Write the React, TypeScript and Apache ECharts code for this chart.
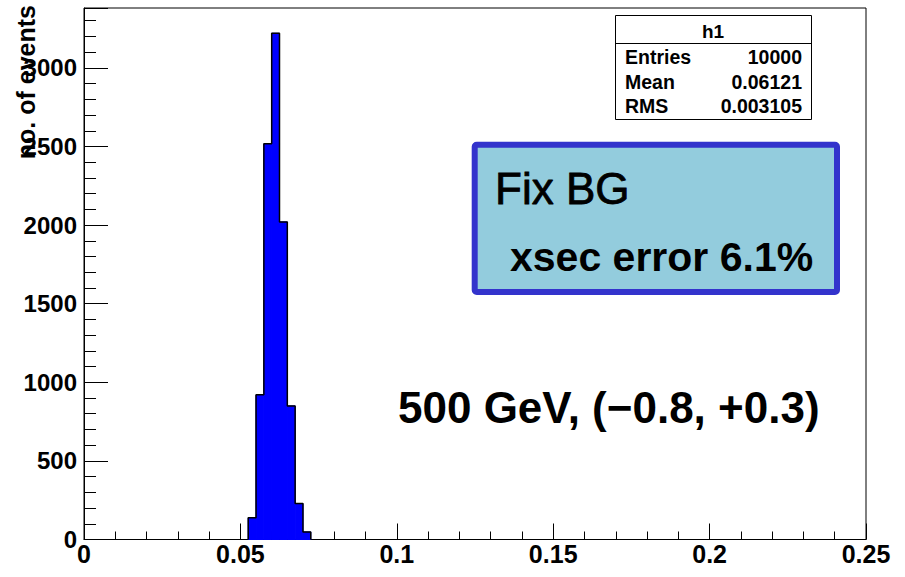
import React, { useEffect, useRef } from "react";
import * as echarts from "echarts";

// ---- data ----
const binLow = [0.0525, 0.055, 0.0575, 0.06, 0.0625, 0.065, 0.0675, 0.07];
const binWidth = 0.0025;
const counts = [138, 920, 2517, 3220, 2020, 850, 229, 48];
const xMin = 0;
const xMax = 0.25;
const xInterval = 0.05;
const yMax = 3381;
const yInterval = 500;
const yMinorInterval = 100;
const yTitle = "no. of events";
const statsTitle = "h1";
const statsLabels = ["Entries", "Mean", "RMS"];
const statsValues = ["10000", "0.06121", "0.003105"];
const boxLines = ["Fix BG", "xsec error 6.1%"];
const energyLabel = "500 GeV, (\u22120.8, +0.3)";

const FONT = '"Liberation Sans", Arial, Helvetica, sans-serif';

export default function App() {
  const ref = useRef<HTMLDivElement>(null);

  useEffect(() => {
    if (!ref.current) return;
    const chart = echarts.init(ref.current, null, { renderer: "svg" });

    const histData = binLow.map((lo, i) => [lo, lo + binWidth, counts[i]]);
    const outline: number[][] = [[binLow[0], 0]];
    binLow.forEach((lo, i) => {
      outline.push([lo, counts[i]]);
      outline.push([lo + binWidth, counts[i]]);
    });
    outline.push([binLow[binLow.length - 1] + binWidth, 0]);

    const rowY = [57, 81.5, 106];

    const graphics: any[] = [
      // stats box
      {
        type: "rect",
        shape: { x: 615.5, y: 15.5, width: 196, height: 104 },
        style: { fill: "#ffffff", stroke: "#000000", lineWidth: 1 },
        z: 100,
      },
      {
        type: "line",
        shape: { x1: 615.5, y1: 43.5, x2: 811.5, y2: 43.5 },
        style: { stroke: "#000000", lineWidth: 1 },
        z: 101,
      },
      {
        type: "text",
        x: 713,
        y: 31,
        style: {
          text: statsTitle,
          font: `bold 19px ${FONT}`,
          fill: "#000",
          textAlign: "center",
          textVerticalAlign: "middle",
        },
        z: 102,
      },
      ...statsLabels.map((t, i) => ({
        type: "text",
        x: 625,
        y: rowY[i],
        style: {
          text: t,
          font: `bold 19.5px ${FONT}`,
          fill: "#000",
          textAlign: "left",
          textVerticalAlign: "middle",
        },
        z: 102,
      })),
      ...statsValues.map((t, i) => ({
        type: "text",
        x: 802,
        y: rowY[i],
        style: {
          text: t,
          font: `bold 19.5px ${FONT}`,
          fill: "#000",
          textAlign: "right",
          textVerticalAlign: "middle",
        },
        z: 102,
      })),
      // blue annotation box
      {
        type: "rect",
        shape: { x: 474.7, y: 144.7, width: 362.3, height: 147.3, r: 2 },
        style: { fill: "#93ccdd", stroke: "#3333cc", lineWidth: 6 },
        z: 100,
      },
      {
        type: "text",
        x: 495,
        y: 188,
        style: {
          text: boxLines[0],
          font: `normal 44px ${FONT}`,
          fill: "#000",
          stroke: "#000",
          lineWidth: 0.8,
          textAlign: "left",
          textVerticalAlign: "middle",
        },
        z: 102,
      },
      {
        type: "text",
        x: 510,
        y: 257,
        style: {
          text: boxLines[1],
          font: `bold 41px ${FONT}`,
          fill: "#000",
          textAlign: "left",
          textVerticalAlign: "middle",
        },
        z: 102,
      },
      {
        type: "text",
        x: 398,
        y: 407,
        style: {
          text: energyLabel,
          font: `bold 44px ${FONT}`,
          fill: "#000",
          textAlign: "left",
          textVerticalAlign: "middle",
        },
        z: 102,
      },
      // y axis title
      {
        type: "text",
        x: 26,
        y: 5,
        rotation: Math.PI / 2,
        style: {
          text: yTitle,
          font: `bold 25px ${FONT}`,
          fill: "#000",
          textAlign: "right",
          textVerticalAlign: "middle",
        },
        z: 102,
      },
    ];

    chart.setOption({
      animation: false,
      backgroundColor: "#ffffff",
      grid: {
        left: 84,
        right: 39,
        top: 8,
        bottom: 37.5,
        show: true,
        borderColor: "#000000",
        borderWidth: 1,
        backgroundColor: "#ffffff",
      },
      xAxis: {
        type: "value",
        min: xMin,
        max: xMax,
        interval: xInterval,
        axisLine: { show: true, lineStyle: { color: "#000", width: 1 } },
        axisTick: { show: true, inside: true, length: 16, lineStyle: { color: "#000" } },
        minorTick: { show: true, splitNumber: 5, length: 8, lineStyle: { color: "#000" } },
        splitLine: { show: false },
        axisLabel: {
          margin: 2,
          color: "#000",
          fontFamily: FONT,
          fontWeight: "bold",
          fontSize: 25,
          showMinLabel: true,
          showMaxLabel: true,
        },
      },
      yAxis: [
        {
          type: "value",
          min: 0,
          max: yMax,
          interval: yInterval,
          axisLine: { show: true, lineStyle: { color: "#000", width: 1 } },
          axisTick: { show: true, inside: true, length: 24, lineStyle: { color: "#000" } },
          splitLine: { show: false },
          axisLabel: {
            margin: 7,
            color: "#000",
            fontFamily: FONT,
            fontWeight: "bold",
            fontSize: 24,
            formatter: (v: number) => (v % yInterval === 0 ? String(v) : ""),
          },
        },
        {
          type: "value",
          min: 0,
          max: yMax,
          interval: yMinorInterval,
          position: "left",
          offset: 0,
          axisLine: { show: false },
          axisTick: { show: true, inside: true, length: 12, lineStyle: { color: "#000" } },
          splitLine: { show: false },
          axisLabel: { show: false },
        },
      ],
      series: [
        {
          type: "custom",
          data: histData,
          encode: { x: [0, 1], y: 2 },
          renderItem: (params: any, api: any) => {
            const p0 = api.coord([api.value(0), api.value(2)]);
            const p1 = api.coord([api.value(1), 0]);
            return {
              type: "rect",
              shape: { x: p0[0], y: p0[1], width: p1[0] - p0[0], height: p1[1] - p0[1] },
              style: { fill: "#0000ff", stroke: "#0000ff", lineWidth: 1 },
            };
          },
          z: 2,
        },
        {
          type: "line",
          data: outline,
          symbol: "none",
          lineStyle: { color: "#000000", width: 1.5 },
          z: 3,
        },
      ],
      graphic: graphics,
    });

    return () => chart.dispose();
  }, []);

  return (
    <div
      ref={ref}
      style={{ position: "absolute", left: 0, top: 0, width: 905, height: 577 }}
    />
  );
}
